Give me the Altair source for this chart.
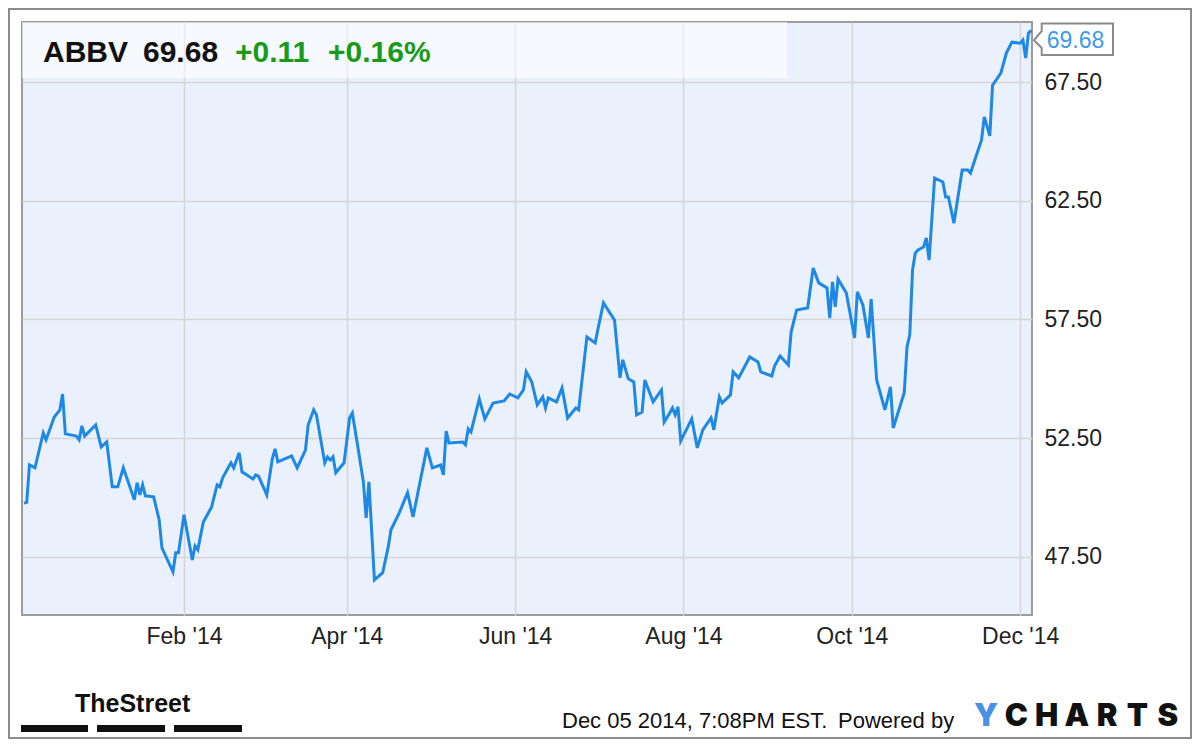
import altair as alt
import pandas as pd

# ---------------- data ----------------
dates = [
    "2013-12-05", "2013-12-06", "2013-12-07", "2013-12-09", "2013-12-12", "2013-12-13", "2013-12-16",
    "2013-12-18", "2013-12-19", "2013-12-20", "2013-12-24", "2013-12-25", "2013-12-26", "2013-12-27",
    "2013-12-31",
    "2014-01-02", "2014-01-04", "2014-01-06", "2014-01-08", "2014-01-10", "2014-01-14", "2014-01-15",
    "2014-01-16", "2014-01-17", "2014-01-18", "2014-01-21", "2014-01-23", "2014-01-24", "2014-01-28",
    "2014-01-29", "2014-01-30",
    "2014-02-01", "2014-02-04", "2014-02-05", "2014-02-06", "2014-02-08", "2014-02-11", "2014-02-13",
    "2014-02-14", "2014-02-15", "2014-02-18", "2014-02-19", "2014-02-21", "2014-02-22", "2014-02-26",
    "2014-02-27", "2014-02-28",
    "2014-03-03", "2014-03-05", "2014-03-06", "2014-03-07", "2014-03-12", "2014-03-14", "2014-03-17",
    "2014-03-18", "2014-03-20", "2014-03-21", "2014-03-24", "2014-03-25", "2014-03-26", "2014-03-27",
    "2014-03-28", "2014-03-31",
    "2014-04-02", "2014-04-03", "2014-04-05", "2014-04-07", "2014-04-08", "2014-04-09", "2014-04-11",
    "2014-04-14", "2014-04-16", "2014-04-17", "2014-04-20", "2014-04-23", "2014-04-25", "2014-04-30",
    "2014-05-02", "2014-05-05", "2014-05-06", "2014-05-07", "2014-05-08", "2014-05-13", "2014-05-14",
    "2014-05-15", "2014-05-16", "2014-05-19", "2014-05-21", "2014-05-24", "2014-05-28", "2014-05-30",
    "2014-06-02", "2014-06-04", "2014-06-05", "2014-06-07", "2014-06-09", "2014-06-11", "2014-06-12",
    "2014-06-13", "2014-06-16", "2014-06-18", "2014-06-20", "2014-06-23", "2014-06-24", "2014-06-27",
    "2014-06-30",
    "2014-07-01", "2014-07-03", "2014-07-07", "2014-07-09", "2014-07-10", "2014-07-12", "2014-07-14",
    "2014-07-15", "2014-07-17", "2014-07-18", "2014-07-21", "2014-07-24", "2014-07-25", "2014-07-27",
    "2014-07-28", "2014-07-29", "2014-07-30", "2014-07-31",
    "2014-08-04", "2014-08-06", "2014-08-08", "2014-08-11", "2014-08-12", "2014-08-14", "2014-08-15",
    "2014-08-18", "2014-08-19", "2014-08-21", "2014-08-25", "2014-08-28", "2014-08-29",
    "2014-09-02", "2014-09-03", "2014-09-05", "2014-09-08", "2014-09-09", "2014-09-11", "2014-09-15",
    "2014-09-17", "2014-09-19", "2014-09-22", "2014-09-23", "2014-09-24", "2014-09-25", "2014-09-26",
    "2014-09-29",
    "2014-10-02", "2014-10-03", "2014-10-05", "2014-10-07", "2014-10-08", "2014-10-10", "2014-10-13",
    "2014-10-15", "2014-10-16", "2014-10-20", "2014-10-21", "2014-10-22", "2014-10-23", "2014-10-24",
    "2014-10-25", "2014-10-27", "2014-10-28", "2014-10-29", "2014-10-31",
    "2014-11-03", "2014-11-04", "2014-11-05", "2014-11-07", "2014-11-10", "2014-11-12", "2014-11-13",
    "2014-11-17", "2014-11-18", "2014-11-20", "2014-11-21", "2014-11-24", "2014-11-26", "2014-11-28",
    "2014-12-01", "2014-12-02", "2014-12-03", "2014-12-04", "2014-12-05",
]

prices = [
    49.77, 49.80, 51.37, 51.25, 52.72, 52.43, 53.39, 53.69, 54.36, 52.68, 52.59, 52.43, 53.02, 52.59,
    53.06,
    52.13, 52.34, 50.45, 50.45, 51.25, 49.90, 50.62, 50.11, 50.53, 50.07, 50.03, 49.06, 47.88, 46.87,
    47.67, 47.67,
    49.27, 47.37, 47.96, 47.80, 48.97, 49.60, 50.53, 50.45, 50.83, 51.46, 51.25, 51.88, 51.08, 50.78,
    50.95, 50.90,
    50.11, 51.63, 52.05, 51.50, 51.75, 51.25, 52.00, 53.06, 53.69, 53.48, 51.46, 51.71, 51.58, 51.71,
    51.04, 51.46,
    53.35, 53.56, 52.13, 50.66, 49.14, 50.66, 46.53, 46.83, 47.92, 48.64, 49.35, 50.20, 49.18, 52.09,
    51.25, 51.37, 50.95, 52.80, 52.30, 52.34, 52.22, 52.89, 52.76, 54.15, 53.31, 53.98, 54.07, 54.36,
    54.20, 54.53, 55.29, 54.87, 53.90, 54.24, 53.77, 54.20, 54.03, 54.62, 53.35, 53.77, 53.69, 56.76,
    56.51,
    57.10, 58.20, 57.48, 55.04, 55.80, 55.00, 54.87, 53.48, 53.60, 54.95, 54.03, 54.53, 53.18, 53.56,
    53.77, 53.48, 53.82, 52.38,
    53.31, 52.09, 52.85, 53.35, 52.85, 54.24, 53.98, 54.32, 55.29, 55.04, 55.92, 55.71, 55.29,
    55.12, 55.54, 55.96, 55.58, 56.97, 57.90, 57.98, 59.67, 59.04, 58.83, 57.56, 59.08, 58.03, 59.20,
    58.62,
    56.72, 58.66, 58.11, 56.72, 58.36, 54.95, 53.69, 54.66, 52.93, 54.41, 56.34, 56.85, 59.58, 60.30,
    60.43, 60.55, 60.93, 60.00, 63.46,
    63.29, 62.66, 62.66, 61.56, 63.80, 63.80, 63.67, 65.06, 66.03, 65.23, 67.37, 67.88, 68.72, 69.18,
    69.14, 69.27, 68.51, 69.56, 69.68,
]

header_texts = ["ABBV", "69.68", "+0.11", "+0.16%"]
y_tick_values = [47.5, 52.5, 57.5, 62.5, 67.5]
x_tick_months = [2, 4, 6, 8, 10, 12]
footer_stamp = "Dec 05 2014, 7:08PM EST."
footer_powered = "Powered by"
brand_left = "TheStreet"
brand_right = "YCHARTS"

# ---------------- chart ----------------
df = pd.DataFrame({"date": dates, "price": prices})
last = df.tail(1).reset_index(drop=True)
one = pd.DataFrame({"k": [0]})

W, H = 1010, 593
FONT = "Liberation Sans"

x_scale = alt.Scale(
    type="utc",
    domain=[
        alt.DateTime(year=2013, month=12, date=4, hours=7, utc=True),
        alt.DateTime(year=2014, month=12, date=5, hours=7, utc=True),
    ],
)
y_scale = alt.Scale(domain=[45.05, 70.03], nice=False, zero=False)

x_enc = alt.X(
    "date:T",
    scale=x_scale,
    axis=alt.Axis(
        values=[alt.DateTime(year=2014, month=m, date=1, utc=True) for m in x_tick_months],
        labelExpr='utcFormat(datum.value, "%b \'%y")',
        title=None,
        grid=True,
        labelPadding=10,
        labelOverlap=False,
        labelFlush=False,
    ),
)
y_enc = alt.Y(
    "price:Q",
    scale=y_scale,
    axis=alt.Axis(
        orient="right",
        values=y_tick_values,
        format=".2f",
        title=None,
        grid=True,
        labelPadding=12,
        labelAlign="left",
        labelBaseline="middle",
    ),
)

line = alt.Chart(df).mark_line(color="#1E88E5", strokeWidth=3, clip=True).encode(x=x_enc, y=y_enc)

band = alt.Chart(one).mark_rect(fill="white", opacity=0.55).encode(
    x=alt.value(0), x2=alt.value(765), y=alt.value(0), y2=alt.value(56)
)

callout_path = "M -0.805 -0.4 L 1 -0.4 L 1 0.4 L -0.805 0.4 L -0.805 0.22 L -1 0.02 L -0.805 -0.21 Z"
callout_box = alt.Chart(last).mark_point(
    shape=callout_path, size=6241, filled=True, fill="white", stroke="#8a8a8a", strokeWidth=2,
    opacity=1, yOffset=9, clip=False,
).encode(x=alt.value(1051.5), y=alt.Y("price:Q", scale=y_scale))
callout_text = alt.Chart(last).mark_text(
    font=FONT, fontSize=23, color="#3D9BE9", align="center", baseline="middle", yOffset=11, clip=False,
).encode(x=alt.value(1053.5), y=alt.Y("price:Q", scale=y_scale), text=alt.Text("price:Q", format=".2f"))


def deco_text(text, x, y, size, color, weight="normal", font=FONT, align="left"):
    return alt.Chart(one).mark_text(
        text=text, font=font, fontSize=size, color=color, fontWeight=weight,
        align=align, baseline="alphabetic",
    ).encode(x=alt.value(x), y=alt.value(y))


header = [
    deco_text(header_texts[0], 21, 40, 30, "#111111", "bold"),
    deco_text(header_texts[1], 121, 40, 30, "#111111", "bold"),
    deco_text(header_texts[2], 213, 40, 30, "#1A9A1A", "bold"),
    deco_text(header_texts[3], 306, 40, 30, "#1A9A1A", "bold"),
]

footer = [
    deco_text(footer_stamp, 540, 706, 22, "#111111"),
    deco_text(footer_powered, 816, 706, 22, "#111111"),
    deco_text(brand_left, 53, 690, 25, "#111111", "bold", font="Liberation Sans"),
]
for i, ch in enumerate(brand_right):
    footer.append(
        deco_text(ch, 964 + i * 30.3, 704, 31, "#4A8FE6" if i == 0 else "#111111", 900,
                  font="Inter, Liberation Sans", align="center")
    )

bars = [
    alt.Chart(one).mark_rect(color="#111111").encode(
        x=alt.value(x0), x2=alt.value(x1), y=alt.value(703), y2=alt.value(710)
    )
    for x0, x1 in [(-1, 66), (75, 143), (152, 220)]
]

frame = alt.Chart(one).mark_rect(fillOpacity=0, stroke="#8c8c8c", strokeWidth=2).encode(
    x=alt.value(-13), x2=alt.value(1169), y=alt.value(-13), y2=alt.value(716)
)

chart = alt.layer(
    band, line, callout_box, callout_text, *header, *footer, *bars, frame
).properties(
    width=W, height=H,
    autosize=alt.AutoSizeParams(type="none"),
    padding={"left": 14, "top": 14, "right": 160, "bottom": 124},
    background="white",
).configure_view(
    fill="#EAF1FC", stroke="#9c9c9c", strokeWidth=2,
).configure_axis(
    labelFont=FONT, labelFontSize=23, labelColor="#222222",
    domain=False, ticks=False, gridColor="#D6D6D6", gridWidth=1.6,
)

chart.save("out.html", embed_options={"renderer": "svg", "actions": False})
